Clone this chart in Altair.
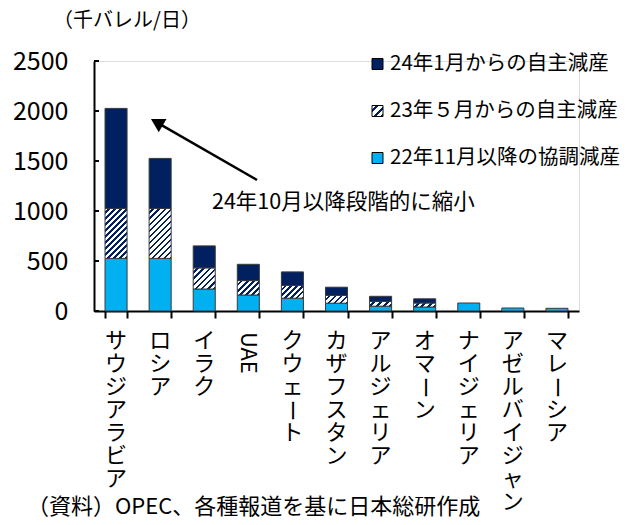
import altair as alt
import pandas as pd

# ---------------- data ----------------
countries = ["サウジアラビア", "ロシア", "イラク", "UAE", "クウェート", "カザフスタン",
             "アルジェリア", "オマーン", "ナイジェリア", "アゼルバイジャン", "マレーシア"]
cut_2022 = [526, 526, 220, 160, 128, 78, 48, 40, 80, 30, 27]   # 22年11月以降の協調減産
cut_2023 = [500, 500, 211, 144, 128, 78, 48, 40, 0, 0, 0]      # 23年５月からの自主減産
cut_2024 = [1000, 500, 220, 163, 135, 82, 51, 42, 0, 0, 0]     # 24年1月からの自主減産
legend_labels = ["24年1月からの自主減産", "23年５月からの自主減産", "22年11月以降の協調減産"]
y_ticks = [0, 500, 1000, 1500, 2000, 2500]
unit_text = "（千バレル/日）"
note_text = "24年10月以降段階的に縮小"
source_text = "（資料）OPEC、各種報道を基に日本総研作成"

# ---------------- style ----------------
NAVY = "#002060"
LIGHT = "#00B0F0"
EDGE = "#3a3a3a"
FONT = "Noto Sans CJK JP"
W, H = 485, 250
Y_MAX = 2500
STEP = W / len(countries)
BAR_W = STEP * 0.5
LABEL_TOP = 270
LINE_H = 23
LABEL_SIZE = 22
BLANK = "\u2800"  # blank slot where the vertical long-vowel mark is drawn


def hatch(w, h, period=6.0, frac=0.42):
    """Diagonal '/' stripes as a hard-stop linear gradient (bbox units)."""
    n = max(1, round((w + h) / period))
    c = (w + h) / (w * w + h * h)
    stops = []
    for k in range(n):
        a = k / n
        m = (k + 1 - frac) / n
        e = (k + 1) / n
        stops += [{"offset": a, "color": "white"}, {"offset": m, "color": "white"},
                  {"offset": m, "color": NAVY}, {"offset": e, "color": NAVY}]
    return {"gradient": "linear", "x1": 0, "y1": 0, "x2": c * w, "y2": c * h, "stops": stops}


df = pd.DataFrame({"country": countries, "v22": cut_2022, "v23": cut_2023, "v24": cut_2024})

x_enc = alt.X("country:N", sort=countries,
              scale=alt.Scale(paddingInner=0.5, paddingOuter=0.25),
              axis=alt.Axis(title=None, labels=False, domainColor="black", domainWidth=2,
                            tickColor="black", tickWidth=2, tickSize=7, tickBand="extent",
                            grid=False))
y_scale = alt.Scale(domain=[0, Y_MAX], nice=False, zero=True)
y_axis = alt.Axis(title=None, values=y_ticks, format="d", ticks=False, grid=False,
                  domainColor="black", domainWidth=2, labelFont=FONT, labelFontSize=25,
                  labelColor="black", labelPadding=26)

base = alt.Chart(df).transform_calculate(
    c2="datum.v22 + datum.v23", c3="datum.v22 + datum.v23 + datum.v24")

light = base.mark_bar(fill=LIGHT, stroke=EDGE, strokeWidth=1).encode(
    x=x_enc, y=alt.Y("v22:Q", scale=y_scale, axis=y_axis))

conds = []
for c, v in zip(countries, cut_2023):
    if v > 0:
        conds.append({"test": f"datum.country === '{c}'",
                      "value": hatch(BAR_W, v * H / Y_MAX)})
hatched = base.transform_filter("datum.v23 > 0").mark_bar(stroke=EDGE, strokeWidth=1).encode(
    x=x_enc, y=alt.Y("c2:Q", scale=y_scale, axis=y_axis), y2="v22:Q",
    fill=alt.FillValue(value="white", condition=conds))

navy = base.transform_filter("datum.v24 > 0").mark_bar(fill=NAVY, stroke=EDGE, strokeWidth=1).encode(
    x=x_enc, y=alt.Y("c3:Q", scale=y_scale, axis=y_axis), y2="c2:Q")

# inward y ticks
yticks = alt.Chart(pd.DataFrame({"t": y_ticks})).mark_rule(color="black", strokeWidth=2).encode(
    y=alt.Y("t:Q", scale=y_scale, axis=y_axis), x=alt.value(0), x2=alt.value(5))

# vertical category labels
label_rows = []
dash_layers = []
for c in countries:
    if c == "UAE":
        continue
    chars = [BLANK if ch == "ー" else ch for ch in c]
    label_rows.append({"country": c, "lines": chars})
labels = alt.Chart(alt.Data(values=label_rows)).mark_text(
    align="center", baseline="top", font=FONT, fontSize=LABEL_SIZE, lineHeight=LINE_H,
    color="black").encode(x=x_enc, y=alt.value(LABEL_TOP), text="lines:N")

for c in countries:
    for i, ch in enumerate(c):
        if ch == "ー":
            dash_layers.append(
                alt.Chart(pd.DataFrame({"country": [c], "t": [ch]})).mark_text(
                    align="center", baseline="middle", angle=90, font=FONT,
                    fontSize=LABEL_SIZE, color="black").encode(
                    x=x_enc, y=alt.value(LABEL_TOP + i * LINE_H + LINE_H / 2 - 1), text="t:N"))

uae = alt.Chart(pd.DataFrame({"country": ["UAE"]})).mark_text(
    align="left", baseline="middle", angle=90, font=FONT, fontSize=LABEL_SIZE,
    color="black").encode(x=x_enc, y=alt.value(LABEL_TOP + 1), text="country:N")

# title, annotation, source
def free_text(txt, x, y, size, align="left"):
    return alt.Chart(pd.DataFrame({"t": [txt]})).mark_text(
        align=align, baseline="middle", font=FONT, fontSize=size, color="black").encode(
        x=alt.value(x), y=alt.value(y), text="t:N")

unit = free_text(unit_text, 33, -40, 20, "center")
note = free_text(note_text, 118, 142, 21.5)
source = free_text(source_text, -67, 446, 22)

# arrow
ARROW_START = (163, 119)
ARROW_HEAD = (62.8, 61.3)
one = pd.DataFrame({"a": [0]})
arrow_line = alt.Chart(one).mark_rule(color="black", strokeWidth=2.5).encode(
    x=alt.value(ARROW_START[0]), y=alt.value(ARROW_START[1]),
    x2=alt.value(ARROW_HEAD[0]), y2=alt.value(ARROW_HEAD[1]))
arrow_head = alt.Chart(one).mark_point(shape="triangle-up", filled=True, fill="black",
                                       opacity=1, size=240, angle=300, strokeWidth=0).encode(
    x=alt.value(ARROW_HEAD[0]), y=alt.value(ARROW_HEAD[1]))

# legend
LEG_X = 278
LEG_ROWS = [3, 50, 97]
leg_fills = [NAVY, hatch(11, 11, period=7.5), LIGHT]
legend_layers = []
for lab, yy, f in zip(legend_labels, LEG_ROWS, leg_fills):
    d = pd.DataFrame({"t": [lab]})
    legend_layers.append(alt.Chart(d).mark_rect(fill=f, stroke="black", strokeWidth=1).encode(
        x=alt.value(LEG_X), x2=alt.value(LEG_X + 11), y=alt.value(yy - 5.5), y2=alt.value(yy + 5.5)))
    legend_layers.append(alt.Chart(d).mark_text(
        align="left", baseline="middle", font=FONT, fontSize=20.5, color="black").encode(
        x=alt.value(LEG_X + 18), y=alt.value(yy), text="t:N"))

chart = alt.layer(
    light, hatched, navy, yticks, labels, *dash_layers, uae, unit, note, source,
    arrow_line, arrow_head, *legend_layers
).properties(
    width=W, height=H,
    padding={"left": 86, "top": 53, "right": 44, "bottom": 206},
    autosize=alt.AutoSizeParams(type="none"),
).configure_view(strokeWidth=0).configure(font=FONT)

chart.save("out.html", embed_options={"renderer": "svg", "actions": False})
